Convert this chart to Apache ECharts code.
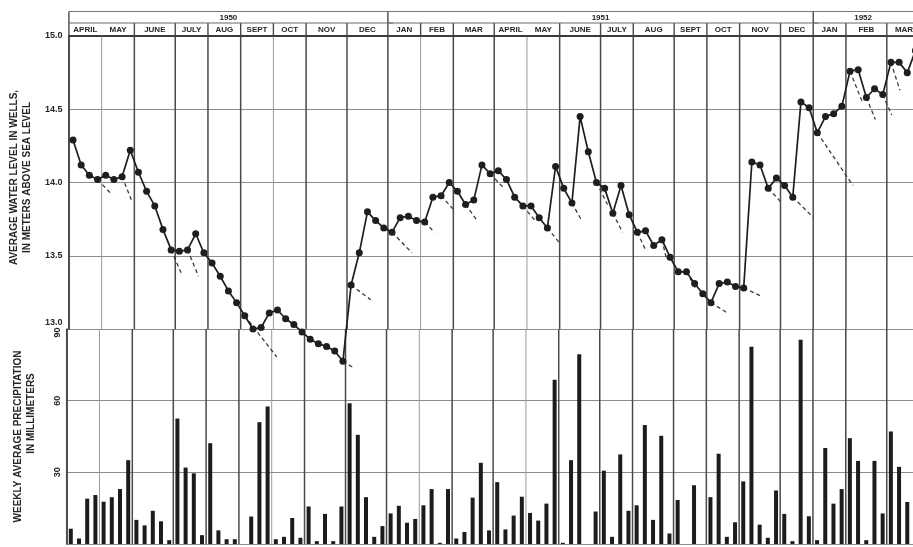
<!DOCTYPE html>
<html>
<head>
<meta charset="utf-8">
<script src="https://cdn.jsdelivr.net/npm/echarts@6/dist/echarts.min.js"></script>
<style>
  html, body { margin: 0; padding: 0; background: #ffffff; }
  #chart { width: 913px; height: 547px; }
</style>
</head>
<body>
<div id="chart"></div>
<script>
// Weekly series, week 0 = first week of April 1950.
const waterLevel = [
  14.29, 14.12, 14.05, 14.02, 14.05, 14.02, 14.04, 14.22, 14.07, 13.94,
  13.84, 13.68, 13.54, 13.53, 13.54, 13.65, 13.52, 13.45, 13.36, 13.26,
  13.18, 13.09, 13.00, 13.01, 13.11, 13.13, 13.07, 13.03, 12.98, 12.93,
  12.90, 12.88, 12.85, 12.78, 13.30, 13.52, 13.80, 13.74, 13.69, 13.66,
  13.76, 13.77, 13.74, 13.73, 13.90, 13.91, 14.00, 13.94, 13.85, 13.88,
  14.12, 14.06, 14.08, 14.02, 13.90, 13.84, 13.84, 13.76, 13.69, 14.11,
  13.96, 13.86, 14.45, 14.21, 14.00, 13.96, 13.79, 13.98, 13.78, 13.66,
  13.67, 13.57, 13.61, 13.49, 13.39, 13.39, 13.31, 13.24, 13.18, 13.31,
  13.32, 13.29, 13.28, 14.14, 14.12, 13.96, 14.03, 13.98, 13.90, 14.55,
  14.51, 14.34, 14.45, 14.47, 14.52, 14.76, 14.77, 14.58, 14.64, 14.60,
  14.82, 14.82, 14.75, 14.90
];

const precipitation = [
  6.4, 2.3, 19.0, 20.5, 17.7, 19.6, 23.0, 35.1, 10.1, 7.8,
  13.9, 9.5, 1.6, 52.5, 32.0, 29.6, 3.7, 42.2, 5.7, 2.0,
  2.0, 0, 11.5, 51.0, 57.6, 2.0, 3.0, 10.9, 2.6, 15.7,
  1.2, 12.6, 1.2, 15.7, 58.9, 45.7, 19.6, 3.0, 7.5, 12.8,
  16.0, 8.9, 10.5, 16.2, 23.0, 0.5, 23.0, 2.3, 5.0, 19.4,
  34.0, 5.7, 25.9, 6.1, 11.9, 19.8, 13.0, 9.8, 16.9, 68.8,
  0.5, 35.1, 79.4, 0, 13.6, 30.7, 3.0, 37.5, 13.9, 16.2,
  49.8, 10.1, 45.3, 4.4, 18.4, 0, 24.6, 0, 19.6, 37.8,
  3.0, 9.1, 26.2, 82.6, 8.1, 2.6, 22.4, 12.6, 1.2, 85.5,
  11.6, 1.6, 40.2, 16.9, 23.0, 44.3, 34.8, 1.6, 34.8, 12.8,
  47.1, 32.3, 17.6
];

// Calendar months, given by the week they start in
const monthNames = ['APRIL', 'MAY', 'JUNE', 'JULY', 'AUG', 'SEPT', 'OCT', 'NOV', 'DEC',
                    'JAN', 'FEB', 'MAR', 'APRIL', 'MAY', 'JUNE', 'JULY', 'AUG', 'SEPT', 'OCT', 'NOV', 'DEC',
                    'JAN', 'FEB', 'MAR'];
const monthStarts = [0, 4, 8, 13, 17, 21, 25, 29, 34,
                     39, 43, 47, 52, 56, 60, 65, 69, 74, 78, 82, 87,
                     91, 95, 100];

const yearNames = ['1950', '1951', '1952'];
const yearStarts = [0, 39, 91];

// Projected recession after a reading: [week of the reading, end week position, end level]
const recessions = [
  [3, 5.04, 13.93], [6, 7.72, 13.87], [12, 13.82, 13.37], [14, 15.85, 13.36],
  [21, 25.4, 12.81], [33, 34.95, 12.73], [34, 36.9, 13.20], [39, 41.95, 13.52],
  [43, 44.7, 13.66], [45, 46.95, 13.82], [48, 49.9, 13.74], [51, 53.2, 13.96],
  [55, 57.0, 13.74], [58, 59.95, 13.59], [61, 62.6, 13.75], [64, 65.85, 13.85],
  [66, 67.7, 13.66], [69, 70.5, 13.54], [72, 73.1, 13.47], [75, 76.7, 13.27],
  [78, 80.5, 13.11], [82, 84.8, 13.22], [85, 87.0, 13.87], [88, 91.05, 13.76],
  [91, 95.85, 13.98], [95, 97.0, 14.55], [97, 98.6, 14.43], [99, 100.6, 14.46],
  [100, 101.6, 14.63]
];

// ---------------------------------------------------------------------------
const X_MAX = 103.2;
const FONT = '"Liberation Sans", Arial, Helvetica, sans-serif';
const NARROW = '"Liberation Sans Narrow", "Liberation Sans", Arial, sans-serif';
const INK = '#262626';
const faintMonthLines = new Set([4, 25, 43, 56]);   // lighter rulings
const sharedHeaderCells = new Set([4, 56]);         // April/May share one header cell

const monthEnds = monthStarts.map((s, i) => i + 1 < monthStarts.length ? monthStarts[i + 1] : X_MAX + 1);
const yearEnds = yearStarts.map((s, i) => i + 1 < yearStarts.length ? yearStarts[i + 1] : X_MAX);

const levelPoints = waterLevel.map((v, i) => [i + 0.5, v]);
const rainBars = precipitation.map((v, i) => [i + 0.5, v]);
const recessionSegments = recessions.map(r => [r[0] + 0.5, waterLevel[r[0]], r[1], r[2]]);

function monthRule(params, api) {
  const cs = params.coordSys;
  const w = api.value(0);
  const x = api.coord([w, 0])[0];
  const faint = faintMonthLines.has(w);
  return {
    type: 'line',
    shape: { x1: x, y1: cs.y, x2: x, y2: cs.y + cs.height },
    style: { stroke: faint ? '#9a9a9a' : '#4a4a4a', lineWidth: faint ? 1 : 1.5 }
  };
}

function monthHeader(params, api) {
  const cs = params.coordSys;
  const s = api.value(0), e = api.value(1), idx = api.value(2);
  const x0 = api.coord([s, 0])[0];
  const x1 = Math.min(api.coord([e, 0])[0], cs.x + cs.width + 5);
  const mid = cs.y - 13;
  const children = [];
  if (!sharedHeaderCells.has(s)) {
    children.push({ type: 'line', shape: { x1: x0, y1: mid, x2: x0, y2: cs.y },
      style: { stroke: '#4a4a4a', lineWidth: 1.4 } });
  }
  children.push({ type: 'line', shape: { x1: x0, y1: cs.y, x2: x1, y2: cs.y },
    style: { stroke: '#3a3a3a', lineWidth: 1.8 } });
  children.push({ type: 'text', x: (x0 + api.coord([e, 0])[0]) / 2, y: cs.y - 6.3,
    style: { text: monthNames[idx], fill: INK, font: 'bold 8px ' + NARROW,
             align: 'center', verticalAlign: 'middle' } });
  return { type: 'group', children: children };
}

function yearHeader(params, api) {
  const cs = params.coordSys;
  const s = api.value(0), e = api.value(1), idx = api.value(2);
  const x0 = api.coord([s, 0])[0];
  const x1 = api.coord([e, 0])[0];
  const top = cs.y - 24.5, mid = cs.y - 13;
  return {
    type: 'group',
    children: [
      { type: 'line', shape: { x1: x0, y1: top, x2: x1 + 5, y2: top }, style: { stroke: '#7a7a7a', lineWidth: 1.2 } },
      { type: 'line', shape: { x1: x0, y1: mid, x2: x1 + 5, y2: mid }, style: { stroke: '#6a6a6a', lineWidth: 1.2 } },
      { type: 'line', shape: { x1: x0, y1: top, x2: x0, y2: mid }, style: { stroke: '#4a4a4a', lineWidth: 1.4 } },
      { type: 'text', x: (x0 + x1) / 2, y: top + 6,
        style: { text: yearNames[idx], fill: INK, font: 'bold 8px ' + NARROW,
                 align: 'center', verticalAlign: 'middle' } }
    ]
  };
}

function recessionLine(params, api) {
  const p0 = api.coord([api.value(0), api.value(1)]);
  const p1 = api.coord([api.value(2), api.value(3)]);
  return {
    type: 'line',
    shape: { x1: p0[0], y1: p0[1], x2: p1[0], y2: p1[1] },
    style: { stroke: '#3a3a3a', lineWidth: 1.3, lineDash: [4, 3] }
  };
}

const titleStyle = { fontFamily: FONT, fontWeight: 700, fontSize: 10, color: INK };

const chart = echarts.init(document.getElementById('chart'), null, { renderer: 'canvas' });

chart.setOption({
  backgroundColor: '#ffffff',
  animation: false,
  grid: [
    { left: 66.7, right: 0, top: 36, height: 293 },
    { left: 66.7, right: 0, top: 329, height: 220 }
  ],
  xAxis: [
    { type: 'value', gridIndex: 0, min: 0, max: X_MAX, show: false },
    { type: 'value', gridIndex: 1, min: 0, max: X_MAX, show: false }
  ],
  yAxis: [
    {
      type: 'value', gridIndex: 0, min: 13, max: 15, interval: 0.5,
      name: '{a|AVERAGE WATER LEVEL IN WELLS,}\n{a|IN METERS ABOVE SEA LEVEL}',
      nameLocation: 'middle', nameRotate: 90, nameGap: 32,
      nameTextStyle: Object.assign({ lineHeight: 13, padding: [0, 0, 0, 10],
        rich: { a: Object.assign({ lineHeight: 13 }, titleStyle) } }, titleStyle),
      axisLine: { show: true, lineStyle: { color: '#333', width: 1.6 } },
      axisTick: { show: false },
      axisLabel: {
        margin: 6.5, color: INK, fontFamily: FONT, fontWeight: 700, fontSize: 9,
        formatter: v => v === 13 ? '{lo|13.0}' : v.toFixed(1),
        rich: { lo: { padding: [0, 0, 12, 0], color: INK, fontFamily: FONT, fontWeight: 700, fontSize: 9 } }
      },
      splitLine: { show: true, lineStyle: { color: '#8c8c8c', width: 1.2 } }
    },
    {
      type: 'value', gridIndex: 1, min: 0, max: 90, interval: 30,
      name: '{a|WEEKLY AVERAGE PRECIPITATION}\n{b|IN MILLIMETERS}',
      nameLocation: 'middle', nameRotate: 90, nameGap: 28.5,
      nameTextStyle: Object.assign({ lineHeight: 13.5,
        rich: {
          a: Object.assign({ lineHeight: 13.5 }, titleStyle),
          b: Object.assign({ lineHeight: 13.5, padding: [0, 0, 0, 46] }, titleStyle)
        } }, titleStyle),
      axisLine: { show: true, lineStyle: { color: '#333', width: 1.6 } },
      axisTick: { show: false },
      axisLabel: {
        rotate: 90, margin: 4.5, color: INK, fontFamily: FONT, fontWeight: 700, fontSize: 9,
        formatter: v => v === 0 ? '' : (v === 90 ? '{hi|90}' : String(v)),
        rich: { hi: { padding: [0, 7, 0, 0], color: INK, fontFamily: FONT, fontWeight: 700, fontSize: 9 } }
      },
      splitLine: { show: true, lineStyle: { color: '#8c8c8c', width: 1.2 } }
    }
  ],
  series: [
    {
      type: 'custom', name: 'months-top', xAxisIndex: 0, yAxisIndex: 0, silent: true, z: 1,
      data: monthStarts.map(s => [s, 14]), encode: { x: 0, y: 1 },
      renderItem: monthRule
    },
    {
      type: 'custom', name: 'months-bottom', xAxisIndex: 1, yAxisIndex: 1, silent: true, z: 1,
      data: monthStarts.map(s => [s, 45]), encode: { x: 0, y: 1 },
      renderItem: monthRule
    },
    {
      type: 'custom', name: 'month-header', xAxisIndex: 0, yAxisIndex: 0, silent: true, z: 3,
      data: monthStarts.map((s, i) => [s, monthEnds[i], i]), encode: { x: [0, 1] },
      renderItem: monthHeader
    },
    {
      type: 'custom', name: 'year-header', xAxisIndex: 0, yAxisIndex: 0, silent: true, z: 3,
      data: yearStarts.map((s, i) => [s, yearEnds[i], i]), encode: { x: [0, 1] },
      renderItem: yearHeader
    },
    {
      type: 'bar', name: 'precipitation', xAxisIndex: 1, yAxisIndex: 1, z: 2,
      data: rainBars, barWidth: 4,
      itemStyle: { color: '#1c1c1c' }
    },
    {
      type: 'custom', name: 'recession', xAxisIndex: 0, yAxisIndex: 0, silent: true, z: 4,
      data: recessionSegments, encode: { x: [0, 2], y: [1, 3] },
      renderItem: recessionLine
    },
    {
      type: 'line', name: 'water level', xAxisIndex: 0, yAxisIndex: 0, z: 5,
      data: levelPoints, clip: false,
      symbol: 'circle', symbolSize: 7, showAllSymbol: true,
      lineStyle: { color: '#1e1e1e', width: 1.7 },
      itemStyle: { color: '#1e1e1e', borderWidth: 0 }
    }
  ]
});
</script>
</body>
</html>
